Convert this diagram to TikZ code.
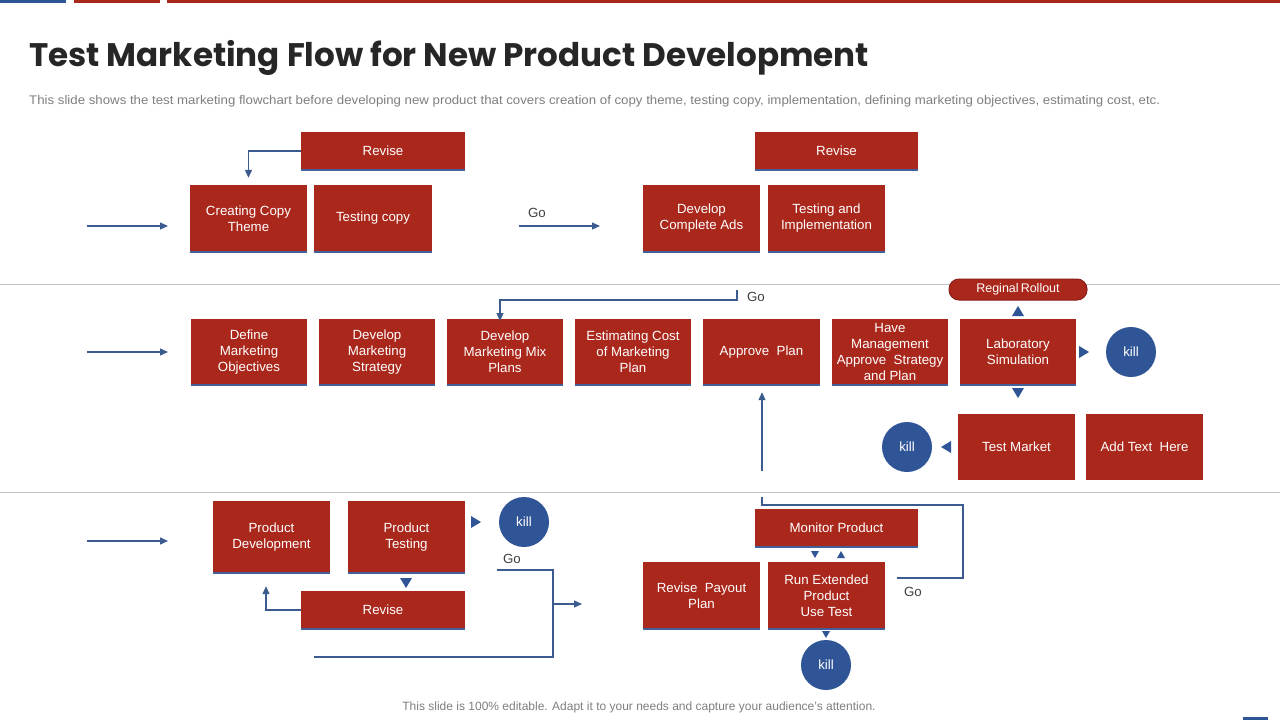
\documentclass[tikz,border=0pt]{standalone}
\usepackage{fontspec}
\setmainfont{Liberation Sans}
\newfontfamily\titlefont{Poppins}
\usetikzlibrary{arrows.meta}
\definecolor{boxred}{HTML}{AA271C}
\definecolor{pillborder}{HTML}{8A1E16}
\definecolor{killblue}{HTML}{2F5597}
\definecolor{lineblue}{HTML}{3B5A8E}
\definecolor{shadowblue}{HTML}{44609A}
\definecolor{sepgray}{HTML}{C4C4C4}
\definecolor{txtgray}{HTML}{7F7F7F}
\definecolor{titlecol}{HTML}{262626}
\definecolor{golabel}{HTML}{404040}
\begin{document}
\begin{tikzpicture}[x=1pt,y=-1pt,
  box/.style 2 args={fill=boxred, text=white, align=center, inner sep=0pt,
    minimum width=#1, minimum height=#2, font=\fontsize{13.3}{16}\selectfont},
  pill/.style={fill=boxred, draw=pillborder, line width=1pt, rounded corners=10pt,
    text=white, inner sep=0pt, minimum width=138, minimum height=21,
    font=\fontsize{12.5}{14}\selectfont},
  kill/.style={circle, fill=killblue, text=white, inner sep=0pt, minimum size=50,
    font=\fontsize{13.3}{16}\selectfont},
  conn/.style={draw=lineblue, line width=1.2pt, -{Triangle[length=8pt,width=7pt]}},
  plainline/.style={draw=lineblue, line width=1.2pt},
  shadowline/.style={draw=shadowblue, line width=1.8pt},
  golab/.style={text=golabel, inner sep=0pt, font=\fontsize{13.3}{16}\selectfont},
  tri/.style={fill=killblue}
]
\useasboundingbox (0,0) rectangle (1280,720);
\fill[white] (0,0) rectangle (1280,720);

% top bars
\fill[killblue] (0,0) rectangle (66,2.5);
\fill[boxred] (74,0) rectangle (160,2.5);
\fill[boxred] (167,0) rectangle (1280,2.5);
\fill[killblue] (1243,717) rectangle (1268,720);

% title and subtitle
\node[anchor=base west, inner sep=0pt, text=titlecol, font=\titlefont\bfseries\fontsize{32.6}{38}\selectfont] (title) at (29,66) {Test Marketing Flow for New Product Development};
\node[anchor=base west, inner sep=0pt, text=txtgray, font=\fontsize{12.5}{14}\selectfont] (sub) at (29,104) {\scalebox{1.06}[1]{This slide shows the test marketing flowchart before developing new product that covers creation of copy theme, testing copy, implementation, defining marketing objectives, estimating cost, etc.}};

% separators
\draw[sepgray, line width=1pt] (0,284) -- (1280,284);
\draw[sepgray, line width=1pt] (0,492) -- (1280,492);

% ---------- Row 1 ----------
\node[box={164}{38}] (rev1) at (383,151) {Revise};
\node[box={117}{67}] (cct) at (248.5,218.5) {Creating Copy\\Theme};
\node[box={118}{67}] (tc) at (373,218.5) {Testing copy};
\node[box={163}{38}] (rev2) at (836.5,151) {Revise};
\node[box={117}{67}] (dca) at (701.5,218.5) {Develop\\Complete Ads};
\node[box={117}{67}] (tai) at (826.5,218.5) {Testing and\\Implementation};

\coordinate (in1s) at (87,226);
\coordinate (in1e) at (168,226);
\draw[conn] (in1s) -- (in1e);
\coordinate (go1s) at (519,226);
\coordinate (go1e) at (600,226);
\draw[conn] (go1s) -- (go1e);
\node[golab] (go1) at (537,213) {Go};
\draw[conn, shorten >=7pt] (rev1.west) -| (cct.north);

% ---------- Row 2 ----------
\node[box={116}{66}] (dmo) at (249,352) {Define\\Marketing\\Objectives};
\node[box={116}{66}] (dms) at (377,352) {Develop\\Marketing\\Strategy};
\node[box={116}{66}] (dmm) at (505,352) {Develop\\Marketing Mix\\Plans};
\node[box={116}{66}] (ecm) at (633,352) {Estimating Cost\\of Marketing\\Plan};
\node[box={117}{66}] (ap) at (761.5,352) {Approve\ \ Plan};
\node[box={116}{66}] (hma) at (890,352) {Have\\Management\\Approve\ \ Strategy\\and Plan};
\node[box={116}{66}] (ls) at (1018,352) {Laboratory\\Simulation};
\node[pill] (rr) at (1018,289.5) {Reginal\,Rollout};
\node[kill] (k1) at (1131,352) {kill};
\node[box={117}{66}] (tm) at (1016.5,447) {Test Market};
\node[box={117}{66}] (ath) at (1144.5,447) {Add Text\ \ Here};
\node[kill] (k2) at (907,447) {kill};

\coordinate (in2s) at (87,352);
\coordinate (in2e) at (168,352);
\draw[conn] (in2s) -- (in2e);
\coordinate (go2s) at (737,290);
\coordinate (go2m) at (737,300);
\coordinate (dmmin) at (500,321);
\draw[conn] (go2s) -- (go2m) -| (dmmin);
\node[golab] (go2) at (756,297) {Go};
\coordinate (up1) at (762,471);
\draw[conn, shorten >=7pt] (up1) -- (up1 |- ap.south);

% triangles around Laboratory Simulation
\fill[tri] (1012,316) -- (1024,316) -- (1018,306) -- cycle;
\fill[tri] (1079,346) -- (1079,358) -- (1089,352) -- cycle;
\fill[tri] (1012,388) -- (1024,388) -- (1018,398) -- cycle;
\fill[tri] (951,441) -- (951,453) -- (941,447) -- cycle;

% ---------- Row 3 ----------
\node[box={117}{72}] (pd) at (271.5,537) {Product\\Development};
\node[box={117}{72}] (pt) at (406.5,537) {Product\\Testing};
\node[kill] (k3) at (524,522) {kill};
\node[box={164}{38}] (rev3) at (383,610) {Revise};
\node[box={163}{38}] (mp) at (836.5,528) {Monitor Product};
\node[box={117}{67}] (rpp) at (701.5,595.5) {Revise\ \ Payout\\Plan};
\node[box={117}{67}] (rep) at (826.5,595.5) {Run Extended\\Product\\Use Test};
\node[kill] (k4) at (826,665) {kill};

\coordinate (in3s) at (87,541);
\coordinate (in3e) at (168,541);
\draw[conn] (in3s) -- (in3e);
\fill[tri] (471,516) -- (471,528) -- (481,522) -- cycle;
\fill[tri] (400,578) -- (412,578) -- (406,588) -- cycle;
\draw[conn, shorten >=13pt] (rev3.west) -| ([xshift=-5.5pt]pd.south);
\node[golab] (go3) at (512,559) {Go};
\coordinate (g3a) at (497,570);
\coordinate (g3b) at (553,570);
\coordinate (g3c) at (553,657);
\coordinate (g3d) at (314,657);
\coordinate (g3m) at (553,604);
\coordinate (g3e) at (582,604);
\draw[plainline] (g3a) -- (g3b) -- (g3c) -- (g3d);
\draw[conn] (g3m) -- (g3e);

\fill[tri] (811,551) -- (819,551) -- (815,558) -- cycle;
\fill[tri] (837,558) -- (845,558) -- (841,551) -- cycle;
\fill[tri] (822,631) -- (830,631) -- (826,638) -- cycle;

\coordinate (g4a) at (762,497);
\coordinate (g4b) at (762,505);
\coordinate (g4c) at (963,505);
\coordinate (g4d) at (963,578);
\coordinate (g4e) at (897,578);
\draw[plainline] (g4a) -- (g4b) -- (g4c) -- (g4d) -- (g4e);
\node[golab] (go4) at (913,592) {Go};

% bottom shadows of the boxes
\foreach \n in {rev1,cct,tc,rev2,dca,tai,dmo,dms,dmm,ecm,ap,hma,ls,pd,pt,rev3,mp,rpp,rep}
  \draw[shadowline] (\n.south west) -- (\n.south east);

% footer
\node[text=txtgray, inner sep=0pt, font=\fontsize{12}{14}\selectfont] (foot) at (639,707) {This slide is 100\% editable. Adapt it to your needs and capture your audience's attention.};
\end{tikzpicture}
\end{document}
